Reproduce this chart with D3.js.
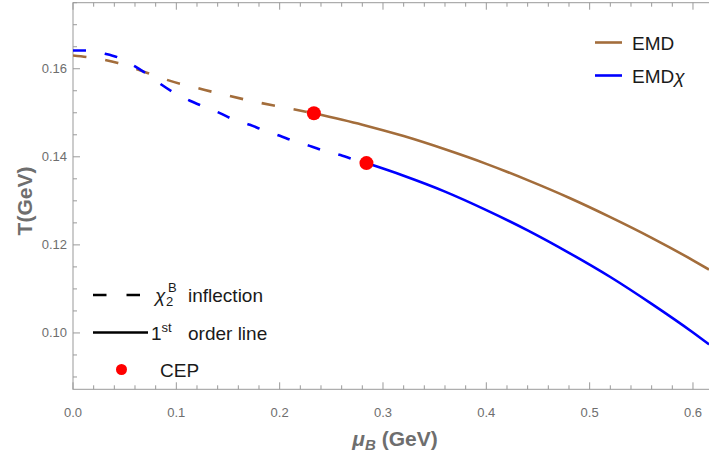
<!DOCTYPE html>
<html lang="en">
<head>
<meta charset="UTF-8">
<title>EMD phase diagram</title>
<style>
    body { margin: 0; background: #fff; }
    svg { display: block; font-family: "Liberation Sans", Arial, sans-serif; }
    .tick-label { fill: #6e6e6e; font-size: 13px; }
    .axis-title { fill: #6e6e6e; font-size: 21px; font-weight: bold; }
    .legend text { fill: #1a1a1a; font-size: 19px; }
</style>
</head>
<body>
<svg id="svg"></svg>
<script src="https://cdn.jsdelivr.net/npm/d3@7"></script>
<script>
// values: [muB (GeV), T (GeV)]
var emdDashed = [[0, 0.1630], [0.0309, 0.1620], [0.0435, 0.1613], [0.0667, 0.1595], [0.0906, 0.1575],
    [0.1035, 0.1566], [0.1212, 0.1556], [0.1341, 0.1548], [0.1518, 0.1538], [0.1647, 0.1531],
    [0.1825, 0.1522], [0.1954, 0.1516], [0.2131, 0.1508], [0.2331, 0.1499]];
var emdSolid = [[0.2331, 0.1499], [0.28, 0.1473], [0.32, 0.1447], [0.36, 0.1417], [0.40, 0.1384],
    [0.44, 0.1347], [0.48, 0.1307], [0.52, 0.1263], [0.56, 0.1216], [0.60, 0.1165], [0.6155, 0.1144]];

var chiDashed = [[0, 0.16416], [0.01325, 0.16414], [0.0309, 0.16341], [0.0435, 0.16257], [0.06, 0.16052],
    [0.0725, 0.15864], [0.0858, 0.15636], [0.0957, 0.15484], [0.1132, 0.15273], [0.1245, 0.15159],
    [0.1422, 0.14993], [0.1535, 0.14864], [0.1712, 0.14727], [0.1835, 0.14614], [0.2002, 0.14477],
    [0.2131, 0.14364], [0.2308, 0.14234], [0.2421, 0.14143], [0.2608, 0.14023], [0.2727, 0.13932],
    [0.2840, 0.13857]];
var chiSolid = [[0.2840, 0.13857], [0.32, 0.1357], [0.36, 0.1321], [0.40, 0.1279], [0.44, 0.1233],
    [0.48, 0.1182], [0.52, 0.1127], [0.56, 0.1066], [0.60, 0.1001], [0.6155, 0.0974]];

var ceps = [[0.2331, 0.1499], [0.2840, 0.13857]];

var xTicks = [0, 0.1, 0.2, 0.3, 0.4, 0.5, 0.6];
var yTicks = [0.10, 0.12, 0.14, 0.16];

var w = 709, h = 461;
var brown = "#a36d3b", blue = "#0000ff", red = "#ff0000";

var svg = d3.select("svg").attr("width", w).attr("height", h);

var x = d3.scaleLinear().domain([0, 0.6155]).range([73, 709]);
var y = d3.scaleLinear().domain([0.0872, 0.175]).range([389.3, 2.7]);

var xLeft = x.range()[0], xRight = x.range()[1] + 1, yTop = y.range()[1], yBottom = y.range()[0];

svg.append("clipPath").attr("id", "clip")
    .append("rect").attr("x", xLeft).attr("y", yTop)
    .attr("width", xRight - xLeft).attr("height", yBottom - yTop);

// frame
svg.append("rect")
    .attr("x", xLeft).attr("y", yTop)
    .attr("width", xRight - xLeft).attr("height", yBottom - yTop)
    .attr("fill", "none").attr("stroke", "#9a9a9a").attr("stroke-width", 1);

// ticks (major + minor) on all sides
var xMinor = d3.range(0, 0.62, 0.02);
var yMinor = d3.range(0.09, 0.1751, 0.005);
var g_ticks = svg.append("g").attr("stroke", "#9a9a9a").attr("stroke-width", 1);

function isMajor(v, list) { return list.some(function (t) { return Math.abs(t - v) < 1e-6; }); }

g_ticks.selectAll(".xb").data(xMinor).enter().append("line")
    .attr("x1", d => x(d)).attr("x2", d => x(d))
    .attr("y1", yBottom).attr("y2", d => yBottom - (isMajor(d, xTicks) ? 7 : 4));
g_ticks.selectAll(".xt").data(xMinor).enter().append("line")
    .attr("x1", d => x(d)).attr("x2", d => x(d))
    .attr("y1", yTop).attr("y2", d => yTop + (isMajor(d, xTicks) ? 7 : 4));
g_ticks.selectAll(".yl").data(yMinor).enter().append("line")
    .attr("y1", d => y(d)).attr("y2", d => y(d))
    .attr("x1", xLeft).attr("x2", d => xLeft + (isMajor(d, yTicks) ? 7 : 4));

svg.selectAll(".xl").data(xTicks).enter().append("text")
    .attr("class", "tick-label")
    .attr("x", d => x(d)).attr("y", 417)
    .attr("text-anchor", "middle")
    .text(d => d3.format(".1f")(d));

svg.selectAll(".yl2").data(yTicks).enter().append("text")
    .attr("class", "tick-label")
    .attr("x", xLeft - 6).attr("y", d => y(d) + 4.5)
    .attr("text-anchor", "end")
    .text(d => d3.format(".2f")(d));

// axis titles
var xt = svg.append("text").attr("class", "axis-title")
    .attr("x", 395).attr("y", 446).attr("text-anchor", "middle");
xt.append("tspan").attr("font-style", "italic").text("μ");
xt.append("tspan").attr("font-style", "italic").attr("font-size", "15px").attr("dy", 4).text("B");
xt.append("tspan").attr("dy", -4).text(" (GeV)");

svg.append("text").attr("class", "axis-title")
    .attr("transform", "translate(32,201) rotate(-90)")
    .attr("text-anchor", "middle")
    .text("T(GeV)");

// curves
var line = d3.line()
    .x(d => x(d[0])).y(d => y(d[1]))
    .curve(d3.curveMonotoneX);

var g_lines = svg.append("g").attr("clip-path", "url(#clip)")
    .attr("fill", "none").attr("stroke-width", 2.6);

g_lines.append("path").datum(emdDashed).attr("d", line)
    .attr("stroke", brown).attr("stroke-dasharray", "13.5,19");
g_lines.append("path").datum(emdSolid).attr("d", line).attr("stroke", brown);
g_lines.append("path").datum(chiDashed).attr("d", line)
    .attr("stroke", blue).attr("stroke-dasharray", "13,19");
g_lines.append("path").datum(chiSolid).attr("d", line).attr("stroke", blue);

svg.selectAll(".cep").data(ceps).enter().append("circle")
    .attr("cx", d => x(d[0])).attr("cy", d => y(d[1]))
    .attr("r", 7).attr("fill", red);

// legend, top right
var lg = svg.append("g").attr("class", "legend");
var series = [{ name: "EMD", color: brown, y: 42.5 }, { name: "EMD", chi: true, color: blue, y: 75.5 }];
series.forEach(function (s) {
    lg.append("line").attr("x1", 595).attr("x2", 622).attr("y1", s.y).attr("y2", s.y)
        .attr("stroke", s.color).attr("stroke-width", 2.6);
    var t = lg.append("text").attr("x", 632).attr("y", s.y + 7).text(s.name);
    if (s.chi) t.append("tspan").attr("font-style", "italic").text("χ");
});

// legend, bottom left
lg.append("line").attr("x1", 93).attr("x2", 141).attr("y1", 295).attr("y2", 295)
    .attr("stroke", "#000").attr("stroke-width", 2.6).attr("stroke-dasharray", "13.5,20");
var t1 = lg.append("text").attr("x", 155).attr("y", 302);
t1.append("tspan").attr("font-style", "italic").text("χ");
t1.append("tspan").attr("font-size", "13px").attr("x", 166).attr("dy", 4).text("2");
t1.append("tspan").attr("font-size", "13px").attr("x", 168).attr("dy", -14).text("B");
t1.append("tspan").attr("x", 188).attr("dy", 10).text("inflection");

lg.append("line").attr("x1", 93).attr("x2", 148).attr("y1", 332.5).attr("y2", 332.5)
    .attr("stroke", "#000").attr("stroke-width", 2.6);
var t2 = lg.append("text").attr("x", 151).attr("y", 339.5);
t2.append("tspan").text("1");
t2.append("tspan").attr("font-size", "13px").attr("dy", -8).text("st");
t2.append("tspan").attr("x", 188).attr("dy", 8).text("order line");

lg.append("circle").attr("cx", 121.5).attr("cy", 369.5).attr("r", 5.5).attr("fill", red);
lg.append("text").attr("x", 160).attr("y", 376.5).text("CEP");
</script>
</body>
</html>
